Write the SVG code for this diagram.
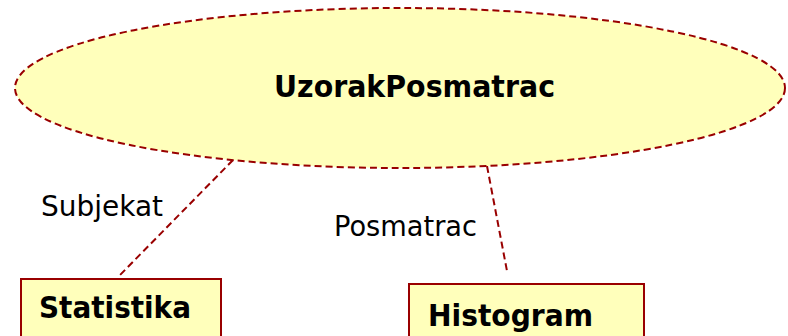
<svg xmlns="http://www.w3.org/2000/svg" width="788" height="336" viewBox="0 0 788 336">
<style>
.node{fill:#ffffbb;stroke:#990000;stroke-width:2}
.dash{stroke-dasharray:7 4}
.conn{fill:none;stroke:#990000;stroke-width:2;stroke-dasharray:7 4}
.bold{font-family:"DejaVu Sans",sans-serif;font-weight:bold;font-size:30px;fill:#000}
.lbl{font-family:"DejaVu Sans",sans-serif;font-size:28px;fill:#000}
</style>
<rect width="788" height="336" fill="#fff"/>
<g id="connectors">
<line class="conn" x1="233" y1="160" x2="120" y2="275"/>
<line class="conn" x1="487" y1="166" x2="507" y2="271"/>
<text class="lbl" x="41" y="216" textLength="122" lengthAdjust="spacingAndGlyphs">Subjekat</text>
<text class="lbl" x="334" y="236" textLength="143" lengthAdjust="spacingAndGlyphs">Posmatrac</text>
</g>
<g id="uzorak">
<ellipse class="node dash" cx="400" cy="88" rx="385" ry="80"/>
<text class="bold" x="274" y="97" textLength="281" lengthAdjust="spacingAndGlyphs">UzorakPosmatrac</text>
</g>
<g id="statistika">
<rect class="node" x="21" y="279" width="200" height="70"/>
<text class="bold" x="39" y="318" textLength="152" lengthAdjust="spacingAndGlyphs">Statistika</text>
</g>
<g id="histogram">
<rect class="node" x="409" y="284" width="235" height="70"/>
<text class="bold" x="428" y="326" textLength="165" lengthAdjust="spacingAndGlyphs">Histogram</text>
</g>
</svg>
